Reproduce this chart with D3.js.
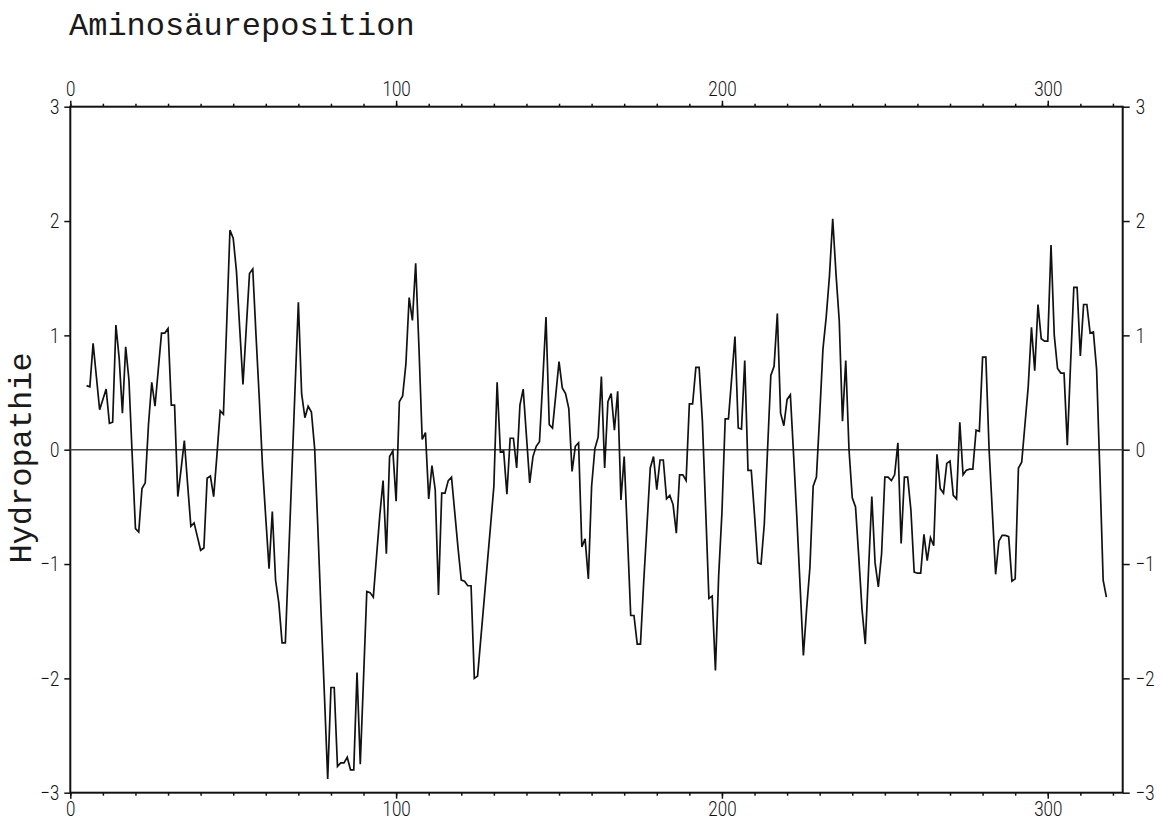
<!DOCTYPE html>
<html>
<head>
<meta charset="utf-8">
<script src="https://cdn.jsdelivr.net/npm/d3@7"></script>
<style>
  body { margin: 0; background: #fff; }
  svg { display: block; }
  .tick text { font-family: Roboto, "Liberation Sans", sans-serif; font-weight: 300; font-size: 21px; fill: #111; }
  .label { font-family: "Liberation Mono", "Courier New", monospace; font-size: 32px; fill: #1a1a1a; }
</style>
</head>
<body>
<svg id="chart" width="1163" height="822"></svg>
<script>
// Hydropathy profile, one value per residue starting at residue 5
const startResidue = 5;
const hydropathy = [
  0.56, 0.55, 0.93, 0.64, 0.35, 0.44, 0.53, 0.23, 0.24, 1.09,   // 5-14
  0.80, 0.32, 0.90, 0.61, -0.05, -0.69, -0.72, -0.34, -0.29, 0.22, // 15-24
  0.59, 0.38, 0.70, 1.02, 1.02, 1.06, 0.39, 0.39, -0.41, -0.17,   // 25-34
  0.08, -0.30, -0.67, -0.64, -0.76, -0.88, -0.86, -0.25, -0.23, -0.41, // 35-44
  -0.05, 0.34, 0.31, 1.10, 1.92, 1.85, 1.56, 1.06, 0.57, 1.06,   // 45-54
  1.54, 1.58, 1.00, 0.45, -0.15, -0.60, -1.04, -0.54, -1.14, -1.34, // 55-64
  -1.69, -1.69, -0.95, -0.20, 0.55, 1.29, 0.49, 0.28, 0.38, 0.33, // 65-74
  0.01, -0.70, -1.45, -2.15, -2.88, -2.08, -2.08, -2.77, -2.74, -2.74, // 75-84
  -2.69, -2.80, -2.80, -1.95, -2.75, -2.00, -1.24, -1.25, -1.29, -0.93, // 85-94
  -0.57, -0.27, -0.91, -0.06, -0.01, -0.45, 0.42, 0.47, 0.75, 1.33, // 95-104
  1.13, 1.63, 0.90, 0.09, 0.15, -0.43, -0.14, -0.35, -1.27, -0.38, // 105-114
  -0.38, -0.27, -0.24, -0.55, -0.86, -1.14, -1.15, -1.19, -1.19, -2.00, // 115-124
  -1.98, -1.65, -1.32, -0.99, -0.66, -0.32, 0.59, -0.02, -0.01, -0.39, // 125-134
  0.10, 0.10, -0.16, 0.39, 0.53, 0.12, -0.29, -0.06, 0.03, 0.07,  // 135-144
  0.60, 1.16, 0.22, 0.19, 0.48, 0.77, 0.54, 0.49, 0.36, -0.19,    // 145-154
  0.03, 0.06, -0.85, -0.78, -1.13, -0.32, 0.01, 0.11, 0.64, -0.16, // 155-164
  0.42, 0.49, 0.17, 0.51, -0.44, -0.06, -0.75, -1.45, -1.45, -1.70, // 165-174
  -1.70, -1.15, -0.66, -0.16, -0.06, -0.35, -0.09, -0.09, -0.43, -0.40, // 175-184
  -0.48, -0.73, -0.22, -0.22, -0.27, 0.40, 0.40, 0.72, 0.72, 0.25, // 185-194
  -0.52, -1.30, -1.28, -1.93, -1.10, -0.55, 0.27, 0.27, 0.63, 0.99, // 195-204
  0.19, 0.18, 0.78, -0.18, -0.18, -0.57, -0.99, -1.00, -0.65, 0.00, // 205-214
  0.65, 0.73, 1.19, 0.32, 0.21, 0.44, 0.48, -0.05, -0.60, -1.20,  // 215-224
  -1.80, -1.39, -1.03, -0.32, -0.24, 0.30, 0.88, 1.16, 1.52, 2.02, // 225-234
  1.54, 1.13, 0.25, 0.78, 0.00, -0.42, -0.50, -0.94, -1.40, -1.70, // 235-244
  -1.05, -0.41, -0.99, -1.20, -0.91, -0.24, -0.24, -0.27, -0.22, 0.06, // 245-254
  -0.82, -0.24, -0.24, -0.53, -1.07, -1.08, -1.08, -0.74, -0.97, -0.77, // 255-264
  -0.84, -0.04, -0.34, -0.38, -0.12, -0.10, -0.40, -0.43, 0.24, -0.22, // 265-274
  -0.18, -0.17, -0.17, 0.17, 0.16, 0.81, 0.81, 0.00, -0.55, -1.09, // 275-284
  -0.80, -0.75, -0.75, -0.76, -1.15, -1.13, -0.16, -0.11, 0.22, 0.55, // 285-294
  1.07, 0.69, 1.27, 0.97, 0.95, 0.95, 1.79, 1.00, 0.71, 0.67,     // 295-304
  0.67, 0.04, 0.75, 1.42, 1.42, 0.82, 1.27, 1.27, 1.02, 1.03,     // 305-314
  0.70, -0.20, -1.14, -1.29                                        // 315-318
];

const xDomain = [0, 323];
const yDomain = [-3, 3];
const xMajorTicks = [0, 100, 200, 300];
const xMinorTicks = d3.range(0, 321, 10);
const yTicks = [-3, -2, -1, 0, 1, 2, 3];
const titleText = "Aminosäureposition";
const yLabelText = "Hydropathie";

const svg = d3.select("#chart");
const plotLeft = 70.3, plotRight = 1122.7, plotTop = 106.7, plotBottom = 792.7;

const x = d3.scaleLinear().domain(xDomain).range([plotLeft, plotRight]);
const y = d3.scaleLinear().domain(yDomain).range([plotBottom, plotTop]);

const fmt = d => d < 0 ? "\u2212" + Math.abs(d) : String(d);
const charWidth = 9.4; // narrow tick-label glyph width

function styleAxis(g) {
  g.select(".domain").remove();
  g.selectAll(".tick line").attr("stroke", "#111").attr("stroke-width", 1.5);
  g.selectAll(".tick text")
    .attr("textLength", d => fmt(d).length * charWidth)
    .attr("lengthAdjust", "spacingAndGlyphs");
}

// top axis: minor ticks every 10, labelled majors every 100
svg.append("g").attr("transform", `translate(0,${plotTop})`)
  .call(d3.axisTop(x).tickValues(xMinorTicks).tickSize(3).tickFormat(""))
  .call(styleAxis);
svg.append("g").attr("transform", `translate(0,${plotTop})`)
  .call(d3.axisTop(x).tickValues(xMajorTicks).tickSize(6).tickPadding(5).tickFormat(fmt))
  .call(styleAxis);

// bottom axis
svg.append("g").attr("transform", `translate(0,${plotBottom})`)
  .call(d3.axisBottom(x).tickValues(xMinorTicks).tickSize(3).tickFormat(""))
  .call(styleAxis);
svg.append("g").attr("transform", `translate(0,${plotBottom})`)
  .call(d3.axisBottom(x).tickValues(xMajorTicks).tickSize(6).tickPadding(3).tickFormat(fmt))
  .call(styleAxis)
  .call(g => g.selectAll(".tick text").attr("dy", "0.68em"));

// left and right value axes
svg.append("g").attr("transform", `translate(${plotLeft},0)`)
  .call(d3.axisLeft(y).tickValues(yTicks).tickSize(6).tickPadding(5).tickFormat(fmt))
  .call(styleAxis);
svg.append("g").attr("transform", `translate(${plotRight},0)`)
  .call(d3.axisRight(y).tickValues(yTicks).tickSize(7).tickPadding(6).tickFormat(fmt))
  .call(styleAxis);

// frame
svg.append("rect")
  .attr("x", plotLeft).attr("y", plotTop)
  .attr("width", plotRight - plotLeft).attr("height", plotBottom - plotTop)
  .attr("fill", "none").attr("stroke", "#111").attr("stroke-width", 2);

// zero line
svg.append("line")
  .attr("x1", plotLeft).attr("x2", plotRight)
  .attr("y1", y(0)).attr("y2", y(0))
  .attr("stroke", "#444").attr("stroke-width", 1.6);

// hydropathy curve
const line = d3.line()
  .x((d, i) => x(startResidue + i))
  .y(d => y(d));
svg.append("path")
  .datum(hydropathy)
  .attr("d", line)
  .attr("fill", "none")
  .attr("stroke", "#111")
  .attr("stroke-width", 1.7)
  .attr("stroke-linejoin", "miter");

// axis titles
svg.append("text").attr("class", "label")
  .attr("x", 69).attr("y", 35)
  .text(titleText);
svg.append("text").attr("class", "label")
  .attr("transform", `translate(31,458) rotate(-90)`)
  .attr("text-anchor", "middle")
  .text(yLabelText);
</script>
</body>
</html>
